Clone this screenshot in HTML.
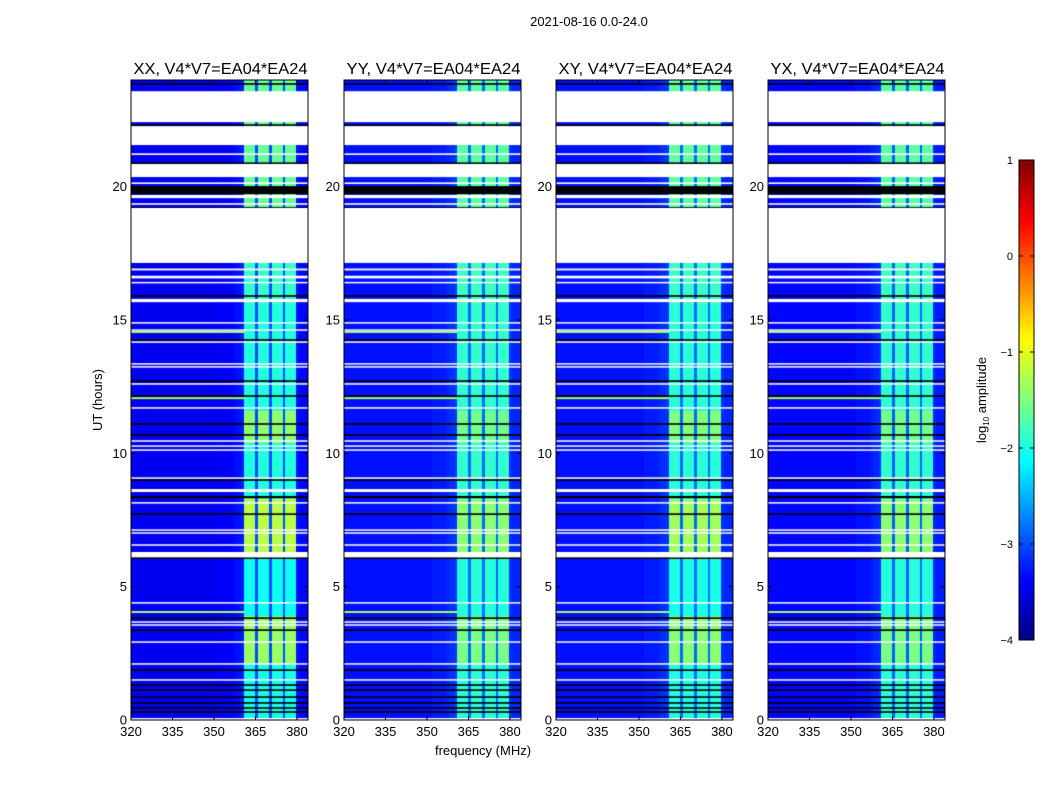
<!DOCTYPE html>
<html><head><meta charset="utf-8"><style>
body{margin:0;background:#fff;width:1050px;height:800px;overflow:hidden;font-family:"Liberation Sans",sans-serif}
#wrap{position:relative;width:1050px;height:800px}
canvas{position:absolute}
svg{position:absolute;left:0;top:0}
</style></head><body>
<div id="wrap">
<canvas id="c0" width="177" height="640" style="left:131px;top:80px"></canvas>
<canvas id="c1" width="177" height="640" style="left:344px;top:80px"></canvas>
<canvas id="c2" width="177" height="640" style="left:556px;top:80px"></canvas>
<canvas id="c3" width="177" height="640" style="left:768px;top:80px"></canvas>
<canvas id="cb" width="15" height="480" style="left:1019px;top:160px"></canvas>
<svg id="ov" width="1050" height="800"></svg>
</div>
<script>
const panelTitles=["XX, V4*V7=EA04*EA24","YY, V4*V7=EA04*EA24","XY, V4*V7=EA04*EA24","YX, V4*V7=EA04*EA24"];
const xTicks=[320,335,350,365,380];
const yTicks=[0,5,10,15,20];
const cbTicks=[1,0,-1,-2,-3,-4];
// level per 1 MHz frequency channel, 320..383 MHz
const freqLevel=[-3.45,-3.45,-3.45,-3.45,-3.45,-3.45,-3.45,-3.45,-3.45,-3.45,-3.45,-3.45,-3.45,-3.45,-3.45,-3.45,
-3.45,-3.45,-3.45,-3.45,-3.45,-3.45,-3.45,-3.45,-3.45,-3.45,-3.45,-3.45,-3.45,-3.45,-3.45,-3.45,
-3.4,-3.4,-3.4,-3.4,-3.4,-3.35,-3.3,-3.3,-3.25,-1.8,-1.75,-1.75,-1.8,-3.0,-1.75,-1.75,
-1.75,-1.8,-3.0,-1.75,-1.75,-1.75,-1.8,-3.0,-1.8,-1.75,-1.75,-1.8,-3.3,-3.35,-3.35,-3.35];
const panelLowOffset=[0,0.15,0.15,0.1];
const panelBoostScale=[1,0.6,0.8,0.6];
// band boost segments [h0,h1,boost]
const bandBoost=[[0,2.1,-0.25],[2.1,3.95,0.4],[3.95,6.1,-0.3],[6.1,8.3,0.55],[8.3,10.45,-0.2],[10.45,11.6,0.35],[11.6,15.6,-0.2],[15.6,17.2,-0.1],[17.2,24,0.15]];
const whiteFlags=[[22.42,23.58],[21.56,22.27],[21.19,21.25],[20.36,20.85],[20.1,20.16],[19.57,19.69],[19.32,19.38],[17.14,19.2],[16.86,16.93],[16.56,16.66],[16.38,16.43],[15.67,15.79],[14.87,14.92],[14.6,14.65],[14.15,14.2],[13.33,13.38],[13.22,13.27],[12.58,12.63],[11.68,11.73],[10.44,10.49],[10.25,10.3],[10.1,10.15],[9.05,9.1],[8.55,8.66],[8.12,8.17],[7.1,7.15],[6.99,7.04],[6.54,6.59],[6.1,6.3],[4.37,4.42],[3.65,3.7],[3.54,3.59],[2.9,2.95],[2.08,2.13],[1.48,1.53],[0,0.07]];
const blackFlags=[[23.82,23.88],[22.28,22.34],[20.86,20.91],[19.72,20.02],[19.18,19.23],[15.87,15.93],[14.22,14.28],[12.68,12.74],[12.12,12.18],[11.07,11.13],[10.66,10.72],[8.97,9.03],[8.32,8.4],[7.69,7.75],[6.04,6.1],[3.79,3.85],[3.34,3.4],[1.84,1.9],[1.28,1.34],[1.09,1.15],[0.83,0.89],[0.61,0.67],[0.42,0.48],[0.27,0.33]];
const hotLines=[14.55,12.07,4.05];

function jet(v){let t=(v+4)/5;t=Math.max(0,Math.min(1,t));
 const f=(x)=>Math.max(0,Math.min(1,x));
 const r=f(1.5-Math.abs(4*t-3)),g=f(1.5-Math.abs(4*t-2)),b=f(1.5-Math.abs(4*t-1));
 return `rgb(${Math.round(r*255)},${Math.round(g*255)},${Math.round(b*255)})`;}
const PW=177,PH=640,F0=320,FSPAN=64,HMAX=24;
const fx=f=>(f-F0)/FSPAN*PW;
const hy=h=>PH-h/HMAX*PH;
function boostAt(h){for(const s of bandBoost){if(h>=s[0]&&h<s[1])return s[2];}return 0;}
for(let p=0;p<4;p++){
 const ctx=document.getElementById('c'+p).getContext('2d');
 const dh=0.1;
 for(let r=0;r<240;r++){const h=r*dh;const bb=boostAt(h+dh/2)*panelBoostScale[p];
  for(let i=0;i<freqLevel.length;i++){const band=freqLevel[i]>-2.5;
   const v=freqLevel[i]+(band?bb:panelLowOffset[p]);
   ctx.fillStyle=jet(v);const x0=fx(F0+i),x1=fx(F0+i+1);
   ctx.fillRect(Math.floor(x0),Math.floor(hy(h+dh)),Math.ceil(x1)-Math.floor(x0),Math.ceil(hy(h))-Math.floor(hy(h+dh)));}}
 for(const h of hotLines){ctx.fillStyle=jet(-1.3);ctx.fillRect(0,hy(h)-1,fx(361),2);}
 ctx.fillStyle='#000';for(const b of blackFlags){ctx.fillRect(0,hy(b[1]),PW,Math.max(1.5,hy(b[0])-hy(b[1])));}
 ctx.fillStyle='#fff';for(const b of whiteFlags){ctx.fillRect(0,hy(b[1]),PW,Math.max(1.5,hy(b[0])-hy(b[1])));}
}
const cb=document.getElementById('cb').getContext('2d');
for(let y=0;y<480;y++){cb.fillStyle=jet(1-5*y/480);cb.fillRect(0,y,15,1);}

const NS='http://www.w3.org/2000/svg',ov=document.getElementById('ov');
function mk(t,a,txt){const e=document.createElementNS(NS,t);for(const k in a)e.setAttribute(k,a[k]);if(txt!==undefined)e.textContent=txt;ov.appendChild(e);return e;}
const lefts=[131,344,556,768];
for(let p=0;p<4;p++){const L=lefts[p],T=80;
 const fr=mk('rect',{x:L,y:T,width:PW,height:PH,fill:'none',stroke:'#000','stroke-width':1});
 
 
 const tt=mk('text',{x:L+PW/2+1,y:74,'text-anchor':'middle','font-size':16,textLength:174,lengthAdjust:'spacingAndGlyphs'},panelTitles[p]);
 
 
 for(const f of xTicks){const x=L+fx(f);
  mk('line',{x1:x,y1:T+PH,x2:x,y2:T+PH-4,stroke:'#000'});mk('line',{x1:x,y1:T,x2:x,y2:T+4,stroke:'#000'});
  const lb=mk('text',{x:x,y:T+PH+16,'text-anchor':'middle','font-size':13},String(f));
  
  }
 for(const h of yTicks){const y=T+hy(h);
  mk('line',{x1:L,y1:y,x2:L+4,y2:y,stroke:'#000'});mk('line',{x1:L+PW,y1:y,x2:L+PW-4,y2:y,stroke:'#000'});
  const lb=mk('text',{x:L-4,y:y+4.5,'text-anchor':'end','font-size':13},String(h));
  
  }
}
const st=mk('text',{x:589,y:26,'text-anchor':'middle','font-size':13},'2021-08-16 0.0-24.0');


const xl=mk('text',{x:483,y:755,'text-anchor':'middle','font-size':13},'frequency (MHz)');


const yl=mk('text',{x:102,y:400,'text-anchor':'middle','font-size':13,transform:'rotate(-90 102 400)'},'UT (hours)');


const cf=mk('rect',{x:1019,y:160,width:15,height:480,fill:'none',stroke:'#000'});


for(const v of cbTicks){const y=160+(1-v)/5*480;
 mk('line',{x1:1019,y1:y,x2:1023,y2:y,stroke:'#000'});mk('line',{x1:1034,y1:y,x2:1030,y2:y,stroke:'#000'});
 const lb=mk('text',{x:1013,y:y+4,'text-anchor':'end','font-size':11},v<0?'\u2212'+(-v):String(v));
 
 }
const cl=mk('text',{x:986,y:400,'text-anchor':'middle','font-size':13,transform:'rotate(-90 986 400)'});


cl.innerHTML='log<tspan font-size="8" dy="3">10</tspan><tspan dy="-3"> amplitude</tspan>';
</script>
</body></html>
